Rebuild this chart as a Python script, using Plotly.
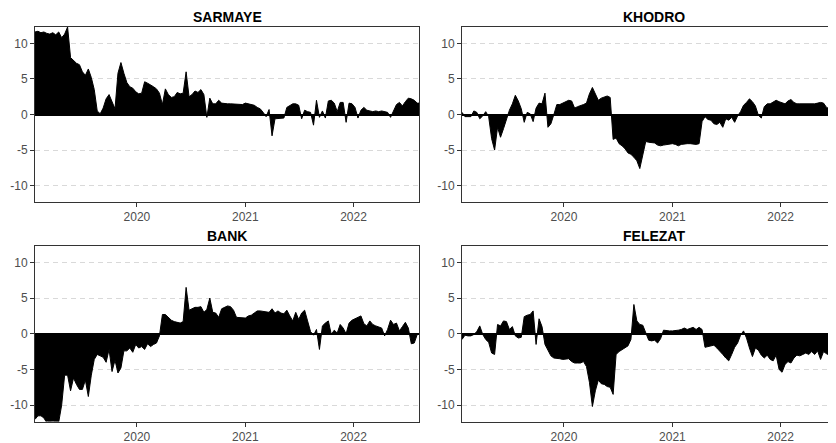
import plotly.graph_objects as go
import pandas as pd

# 10-day sampled dates
dates = pd.date_range("2019-01-22", periods=131, freq="10D")

panel_names = ["SARMAYE", "KHODRO", "BANK", "FELEZAT"]

sarmaye = [
    11.6, 11.7, 11.5, 11.6, 11.4, 11.3, 11.5, 11.2, 11.6, 10.8,
    11.3, 12.3, 8.0, 7.6, 7.2, 7.0, 6.0, 5.5, 6.4, 5.2,
    3.5, 0.5, 0.1, 0.9, 2.2, 2.8, 1.8, 0.8, 5.8, 7.3,
    5.8, 4.5, 3.9, 3.7, 3.2, 2.9, 3.0, 4.6, 4.4, 4.2,
    3.9, 3.6, 3.0, 1.4, 3.6, 2.8, 2.4, 2.5, 3.1, 2.9,
    3.0, 6.0, 2.5, 2.8, 3.3, 3.1, 3.5, 2.8, -0.4, 2.3,
    1.5, 1.5, 2.0, 1.6, 1.5, 1.5, 1.5, 1.5, 1.4, 1.5,
    1.4, 1.6, 1.5, 1.5, 1.3, 1.0, 0.8, 0.3, -0.3, 0.7,
    -3.0, -0.6, -0.6, -0.6, -0.5, 1.0, 1.3, 1.5, 1.5, 1.3,
    -0.6, 0.6, 0.4, 0.3, -1.5, 2.0, -0.4, 0.5, -0.5, 1.9,
    2.0, 1.6, 0.4, 1.7, 1.7, -1.1, 1.6, 1.5, 1.0, -0.5,
    0.6, 1.0, 0.6, 0.5, 0.4, 0.5, 0.4, 0.5, 0.4, 0.3,
    -0.4, 0.5, 1.4, 1.7, 1.2, 1.8, 2.3, 2.2, 2.0, 1.6,
    1.6,
]

khodro = [
    0.3, -0.3, -0.3, -0.3, 0.5, 0.3, -0.6, -0.2, 0.4, -0.3,
    -3.4, -5.0, -1.8, -3.2, -2.0, -0.6, 0.6, 1.5, 2.7, 1.9,
    0.8, -1.1, 0.3, 0.1, -1.0, 0.9, 1.6, 1.5, 3.0, -1.8,
    -1.3, 0.0, 1.4, 1.4, 1.6, 1.7, 2.0, 1.9, 0.9, 1.1,
    1.2, 1.4, 1.6, 2.9, 3.8, 2.8, 2.0, 2.3, 2.5, 2.6,
    2.4, -3.5, -3.3, -4.1, -4.4, -4.8, -5.4, -5.6, -6.0, -6.5,
    -7.6, -5.5, -3.8, -3.9, -3.9, -4.0, -4.3, -4.4, -4.3, -4.2,
    -4.1, -4.1, -4.2, -4.4, -4.2, -4.1, -4.1, -4.1, -4.2, -4.2,
    -4.1, -1.0, -0.3, -0.7, -0.8, -1.3, -1.4, -1.1, -1.8, -0.6,
    -0.8, -0.4, -1.1, -0.2, 0.4, 1.3, 1.7, 2.2, 1.8, 1.2,
    -0.1, -0.5, 1.1, 1.5, 1.5, 1.7, 2.0, 1.8, 1.7, 1.5,
    1.9, 2.1, 1.7, 1.5, 1.5, 1.5, 1.5, 1.5, 1.4, 1.5,
    1.6, 1.7, 1.6, 1.0, 0.8, 0.6, 0.4, 0.4, 0.4, 0.4,
    0.4,
]

bank = [
    -12.0, -11.5, -11.5, -11.8, -12.5, -12.3, -12.5, -12.3, -12.4, -10.0,
    -5.8, -5.8, -8.0, -6.2, -7.1, -7.8, -7.8, -6.5, -8.8, -5.8,
    -3.6, -2.9, -3.1, -3.3, -4.0, -2.2, -5.3, -3.7, -5.5, -4.8,
    -2.4, -2.4, -2.0, -2.6, -1.5, -2.0, -1.8, -2.2, -1.4, -1.8,
    -1.5, -1.3, -0.3, 2.7, 2.7, 2.3, 1.9, 1.7, 1.6, 1.5,
    1.7, 6.5, 3.3, 3.5, 3.7, 3.7, 3.8, 3.0, 3.4, 5.0,
    3.0, 2.9, 2.3, 3.5, 3.7, 3.9, 3.8, 3.3, 2.3, 2.3,
    2.3, 2.2, 2.5, 2.6, 2.9, 3.2, 3.2, 3.1, 3.1, 3.0,
    3.5, 2.9, 3.2, 2.9, 2.8, 3.3, 2.5, 1.8, 3.0, 2.0,
    2.9, 3.3, 1.8, 0.3, -0.2, 0.6, -2.2, 1.1, 1.5, 1.8,
    -0.1, 0.5, 0.1, 1.3, 0.8, 0.0, 1.5, 1.9, 2.1, 2.3,
    2.5, 1.4, 1.1, 1.8, 1.3, 1.1, 0.9, 0.8, -0.3, 0.6,
    1.9, 1.3, 1.5, 0.4, 1.0, 1.6, 0.8, -1.4, -1.3, -0.1,
    0.0,
]

felezat = [
    -0.8, -0.2, -0.3, -0.3, -0.1, 0.3, 1.1, -0.1, -0.8, -1.2,
    -2.7, -2.9, 1.3, 1.1, 1.8, 1.7, 0.6, 1.0, -0.3, -0.6,
    -0.5, 2.4, 2.6, 2.7, 3.2, -1.5, 2.1, 1.0, -1.5, -2.2,
    -3.1, -3.4, -3.4, -3.5, -3.6, -3.5, -3.5, -3.9, -4.1, -4.1,
    -4.1, -3.9, -4.6, -6.8, -10.2, -8.0, -6.5, -7.0, -7.1, -7.4,
    -7.5, -8.5, -2.9, -2.5, -2.2, -2.0, -1.7, -0.8, 4.1, 1.8,
    1.3, 1.2, 0.0, -0.9, -1.0, -0.9, -1.3, -0.7, 0.5, 0.4,
    0.4, 0.4, 0.4, 0.5, 0.6, 0.8, 0.6, 0.7, 0.9, 0.6,
    0.9, 0.6, -1.9, -1.8, -1.7, -1.6, -2.0, -2.4, -2.9, -3.4,
    -3.8, -2.9, -1.9, -1.3, -0.2, 0.4, -0.6, -2.0, -3.2, -2.0,
    -2.3, -3.0, -3.4, -3.0, -3.6, -3.8, -3.0, -5.0, -5.4, -4.3,
    -3.9, -4.1, -3.4, -3.0, -3.1, -2.9, -2.7, -2.9, -2.5, -2.9,
    -2.4, -3.6, -2.5, -2.8, -3.0, -3.1, -3.4, -3.3, -3.2, -3.3,
    -3.2,
]

y_ticks = [-10, -5, 0, 5, 10]
y_tick_labels = ["-10", "-5", "0", "5", "10"]
x_ticks = ["2020-01-01", "2021-01-01", "2022-01-01"]
x_tick_labels = ["2020", "2021", "2022"]

series = [sarmaye, khodro, bank, felezat]

# page body has an 8px margin; figure drawn at (8, 8) in the window
W, H = 828, 435
x_dom = [[27 / W, 411 / W], [454 / W, 1.0], [27 / W, 411 / W], [454 / W, 1.0]]
y_dom = [[1 - 194 / H, 1 - 19 / H], [1 - 194 / H, 1 - 19 / H],
         [1 - 413.5 / H, 1 - 238 / H], [1 - 413.5 / H, 1 - 238 / H]]
x_rng = [["2019-01-22", "2022-08-10"], ["2019-01-22", "2022-07-07"],
         ["2019-01-22", "2022-08-10"], ["2019-01-22", "2022-07-07"]]
title_x = [219 / W, 646 / W, 219 / W, 646 / W]
title_y = [1 - 9 / H, 1 - 9 / H, 1 - 228 / H, 1 - 228 / H]

FONT = "Liberation Sans, Arial, sans-serif"
fig = go.Figure()
layout = dict(
    width=W, height=H,
    margin=dict(l=0, r=0, t=0, b=0),
    paper_bgcolor="white", plot_bgcolor="white",
    showlegend=False,
    font=dict(family=FONT),
    annotations=[],
)

for k, (name, vals) in enumerate(zip(panel_names, series)):
    sfx = "" if k == 0 else str(k + 1)
    fig.add_trace(go.Scatter(
        x=dates, y=vals, mode="lines",
        line=dict(color="black", width=1),
        fill="tozeroy", fillcolor="black",
        xaxis="x" + sfx, yaxis="y" + sfx,
        hoverinfo="skip", showlegend=False,
    ))
    right = k in (1, 3)
    layout["xaxis" + sfx] = dict(
        domain=x_dom[k], anchor="y" + sfx, type="date", range=x_rng[k],
        tickvals=x_ticks, ticktext=x_tick_labels,
        showgrid=False, zeroline=False,
        showline=True, mirror=True, linecolor="#333333", linewidth=1,
        ticks="outside", ticklen=4, tickcolor="#333333", tickwidth=1,
        tickfont=dict(size=12, color="#4D4D4D", family=FONT),
        automargin=False,
    )
    layout["yaxis" + sfx] = dict(
        domain=y_dom[k], anchor="x" + sfx, range=[-12.3, 12.3],
        tickvals=y_ticks, ticktext=y_tick_labels,
        showgrid=True, gridcolor="#D9D9D9", griddash="5px,4px", gridwidth=1,
        zeroline=True, zerolinecolor="black", zerolinewidth=1.5,
        showline=True, mirror=(not right), linecolor="#333333", linewidth=1,
        ticks="outside", ticklen=4, tickcolor="#333333", tickwidth=1,
        tickfont=dict(size=12, color="#4D4D4D", family=FONT),
        automargin=False,
    )
    layout["annotations"].append(dict(
        text="<b>" + name + "</b>", x=title_x[k], y=title_y[k],
        xref="paper", yref="paper", xanchor="center", yanchor="middle",
        showarrow=False, font=dict(size=14, color="black", family=FONT),
    ))

fig.update_layout(**layout)
fig.write_html("out.html")
